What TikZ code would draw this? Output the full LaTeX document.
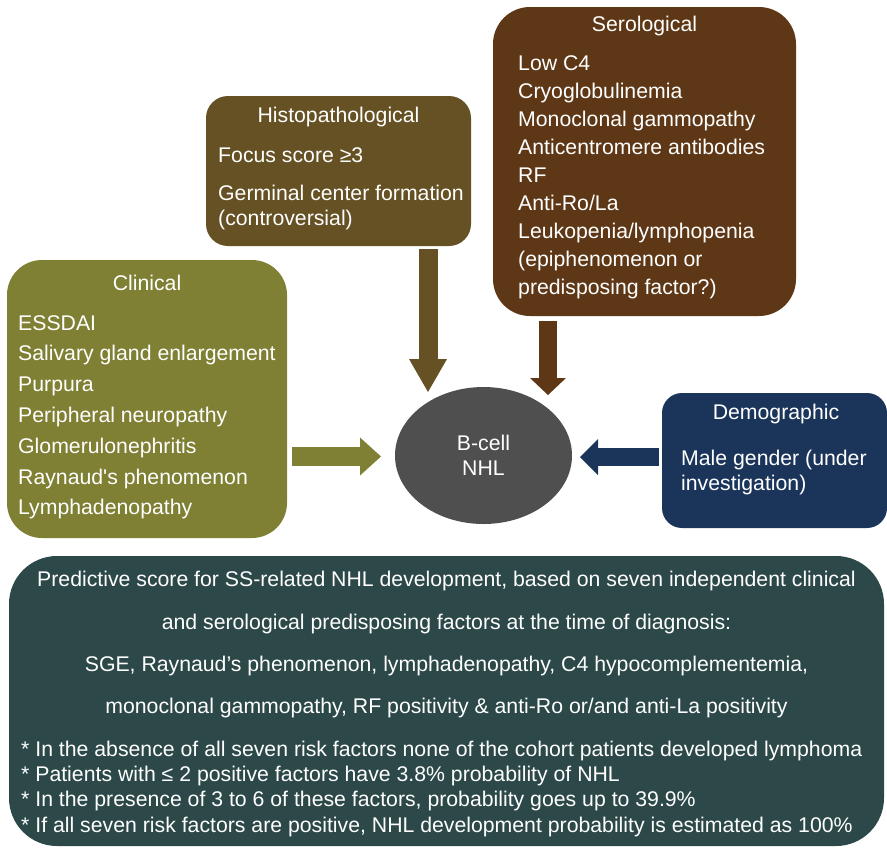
\documentclass[tikz,border=0pt]{standalone}
\usepackage{fontspec}
\setmainfont{Liberation Sans}
\usetikzlibrary{shapes.geometric,arrows.meta}
\definecolor{histc}{HTML}{655123}
\definecolor{seroc}{HTML}{5E3816}
\definecolor{clinc}{HTML}{7F8034}
\definecolor{democ}{HTML}{1B355A}
\definecolor{ellc}{HTML}{4F4F4F}
\definecolor{botc}{HTML}{2C4848}
\begin{document}
\begin{tikzpicture}[x=1pt,y=-1pt,
  box/.style={rectangle, inner sep=0pt, draw=none},
  txt/.style={text=white, font=\fontsize{21.25}{25}\selectfont, inner sep=0pt, anchor=base west},
  ttl/.style={text=white, font=\fontsize{21.25}{25}\selectfont, inner sep=0pt, anchor=base},
  blk/.style n args={4}{draw=#1, line width=#2, -{Triangle[length=#3, width=#4, line width=0pt, fill=#1]}}
]
\useasboundingbox[fill=white] (0,0) rectangle (887,847);

% boxes
\node[box, fill=histc, rounded corners=22pt, minimum width=265pt, minimum height=150pt] (hist) at (338.5,171) {};
\node[box, fill=seroc, rounded corners=37pt, minimum width=303pt, minimum height=309pt] (sero) at (644.5,161.5) {};
\node[box, fill=clinc, rounded corners=35pt, minimum width=280pt, minimum height=278pt] (clin) at (147,399) {};
\node[box, fill=democ, rounded corners=20pt, minimum width=225pt, minimum height=135pt] (demo) at (774.5,460.5) {};
\node[box, fill=botc, rounded corners=48pt, minimum width=875pt, minimum height=290pt] (bot) at (446.5,701) {};
\node[ellipse, fill=ellc, inner sep=0pt, minimum width=177pt, minimum height=137pt, text=white, align=center, font=\fontsize{21.25}{25}\selectfont] (nhl) at (483.5,455.5) {B-cell\\NHL};

% histopathological
\node[ttl] (histt) at (338.5,122) {Histopathological};
\node[txt] (hist1) at (218,162) {Focus score ≥3};
\node[txt] (hist2) at (218,200) {Germinal center formation};
\node[txt] (hist3) at (218,225) {(controversial)};

% serological
\node[ttl] (serot) at (644.5,31) {Serological};
\foreach \t [count=\i] in {{Low C4}, {Cryoglobulinemia}, {Monoclonal gammopathy}, {Anticentromere antibodies}, {RF}, {Anti-Ro/La}, {Leukopenia/lymphopenia}, {(epiphenomenon or}, {predisposing factor?)}}
  \node[txt, name=sero\i] at (518,{70+(\i-1)*28}) {\t};

% clinical
\node[ttl] (clint) at (147,290) {Clinical};
\foreach \t [count=\i] in {ESSDAI, Salivary gland enlargement, Purpura, Peripheral neuropathy, Glomerulonephritis, Raynaud\textquotesingle s phenomenon, Lymphadenopathy}
  \node[txt, name=clin\i] at (18,{330+(\i-1)*30.8}) {\t};

% demographic
\node[ttl] (demot) at (776,419) {Demographic};
\node[txt] (demo1) at (681,465) {Male gender (under};
\node[txt] (demo2) at (681,490) {investigation)};

% bottom box
\node[ttl] (b1) at (446.5,586) {Predictive score for SS-related NHL development, based on seven independent clinical};
\node[ttl] (b2) at (446.5,629) {and serological predisposing factors at the time of diagnosis:};
\node[ttl] (b3) at (446.5,671) {SGE, Raynaud’s phenomenon, lymphadenopathy, C4 hypocomplementemia,};
\node[ttl] (b4) at (446.5,713) {monoclonal gammopathy, RF positivity \& anti-Ro or/and anti-La positivity};
\node[txt] (b5) at (21,756) {* In the absence of all seven risk factors none of the cohort patients developed lymphoma};
\node[txt] (b6) at (21,781) {* Patients with ≤ 2 positive factors have 3.8\% probability of NHL};
\node[txt] (b7) at (21,806) {* In the presence of 3 to 6 of these factors, probability goes up to 39.9\%};
\node[txt] (b8) at (21,832) {* If all seven risk factors are positive, NHL development probability is estimated as 100\%};

% arrow end points
\coordinate (hx) at (428,392);
\coordinate (sx) at (548,395);
\coordinate (gx) at (381,456.5);
\coordinate (bx) at (580,457);

\draw[blk={histc}{19pt}{33pt}{38pt}, shorten <=3pt] (hist.south -| hx) -- (hx);
\draw[blk={seroc}{17.5pt}{17pt}{36pt}, shorten <=5pt] (sero.south -| sx) -- (sx);
\draw[blk={clinc}{19pt}{21pt}{38pt}, shorten <=5pt] (clin.east |- gx) -- (gx);
\draw[blk={democ}{18pt}{18pt}{36pt}, shorten <=3pt] (demo.west |- bx) -- (bx);
\end{tikzpicture}
\end{document}
